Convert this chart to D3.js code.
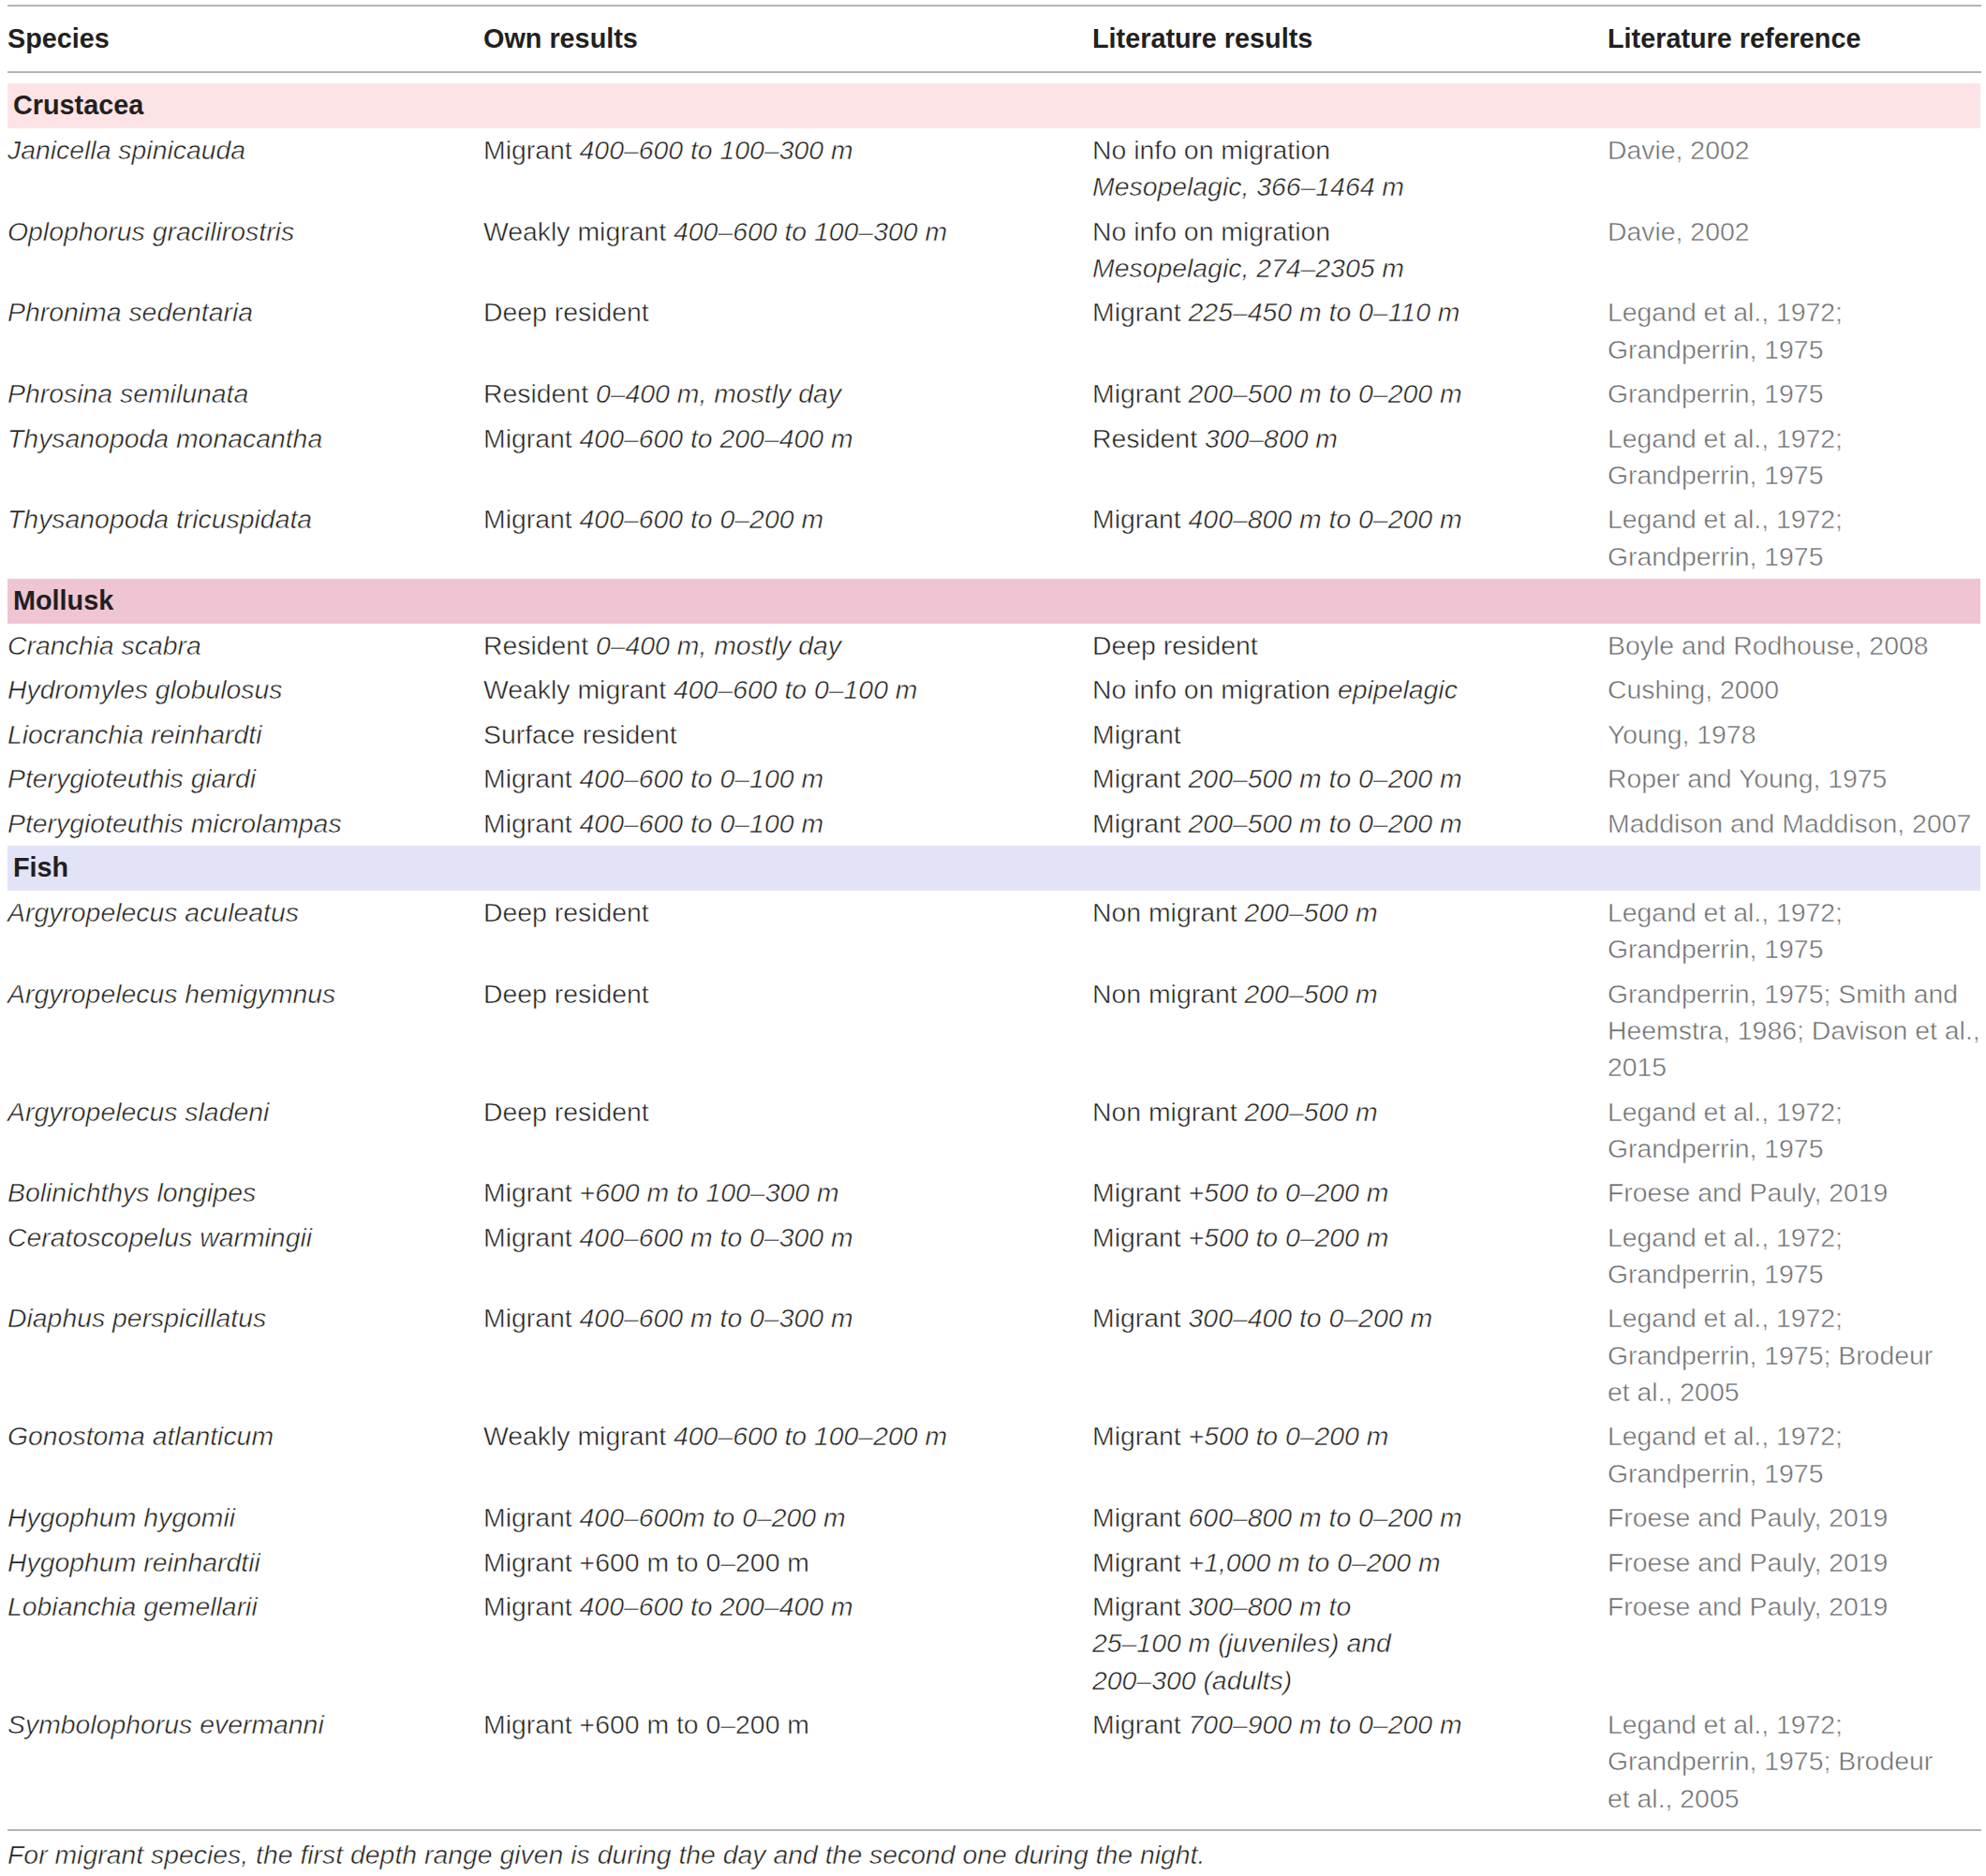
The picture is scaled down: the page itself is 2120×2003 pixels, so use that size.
<!DOCTYPE html>
<html>
<head>
<meta charset="utf-8">
<script src="https://cdn.jsdelivr.net/npm/d3@7"></script>
<style>
body { margin: 0; background: #fff; }
text { font-family: "Liberation Sans", Arial, sans-serif; white-space: pre; }
text.light { stroke: #fff; stroke-width: 0.5px; }
</style>
</head>
<body>
<div id="table"></div>
<script>
// table content, one entry per row; "_" toggles italic, "\n" breaks a line
var columns = ["Species", "Own results", "Literature results", "Literature reference"]
var groups = ["Crustacea", "Mollusk", "Fish"]
var groupColors = ["#fde3e5", "#f0c5d3", "#e3e3f8"]
var rowGroup = [0,0,0,0,0,0, 1,1,1,1,1, 2,2,2,2,2,2,2,2,2,2,2]

var species = [
	"Janicella spinicauda", "Oplophorus gracilirostris", "Phronima sedentaria", "Phrosina semilunata",
	"Thysanopoda monacantha", "Thysanopoda tricuspidata",
	"Cranchia scabra", "Hydromyles globulosus", "Liocranchia reinhardti", "Pterygioteuthis giardi",
	"Pterygioteuthis microlampas",
	"Argyropelecus aculeatus", "Argyropelecus hemigymnus", "Argyropelecus sladeni", "Bolinichthys longipes",
	"Ceratoscopelus warmingii", "Diaphus perspicillatus", "Gonostoma atlanticum", "Hygophum hygomii",
	"Hygophum reinhardtii", "Lobianchia gemellarii", "Symbolophorus evermanni"
]

var ownResults = [
	"Migrant _400–600 to 100–300 m_", "Weakly migrant _400–600 to 100–300 m_", "Deep resident",
	"Resident _0–400 m, mostly day_", "Migrant _400–600 to 200–400 m_", "Migrant _400–600 to 0–200 m_",
	"Resident _0–400 m, mostly day_", "Weakly migrant _400–600 to 0–100 m_", "Surface resident",
	"Migrant _400–600 to 0–100 m_", "Migrant _400–600 to 0–100 m_",
	"Deep resident", "Deep resident", "Deep resident", "Migrant _+600 m to 100–300 m_",
	"Migrant _400–600 m to 0–300 m_", "Migrant _400–600 m to 0–300 m_", "Weakly migrant _400–600 to 100–200 m_",
	"Migrant _400–600m to 0–200 m_", "Migrant +600 m to 0–200 m", "Migrant _400–600 to 200–400 m_",
	"Migrant +600 m to 0–200 m"
]

var litResults = [
	"No info on migration\n_Mesopelagic, 366–1464 m_", "No info on migration\n_Mesopelagic, 274–2305 m_",
	"Migrant _225–450 m to 0–110 m_", "Migrant _200–500 m to 0–200 m_", "Resident _300–800 m_",
	"Migrant _400–800 m to 0–200 m_",
	"Deep resident", "No info on migration _epipelagic_", "Migrant", "Migrant _200–500 m to 0–200 m_",
	"Migrant _200–500 m to 0–200 m_",
	"Non migrant _200–500 m_", "Non migrant _200–500 m_", "Non migrant _200–500 m_", "Migrant _+500 to 0–200 m_",
	"Migrant _+500 to 0–200 m_", "Migrant _300–400 to 0–200 m_", "Migrant _+500 to 0–200 m_",
	"Migrant _600–800 m to 0–200 m_", "Migrant _+1,000 m to 0–200 m_",
	"Migrant _300–800 m to_\n_25–100 m (juveniles) and_\n_200–300 (adults)_", "Migrant _700–900 m to 0–200 m_"
]

var litRefs = [
	"Davie, 2002", "Davie, 2002", "Legand et al., 1972;\nGrandperrin, 1975", "Grandperrin, 1975",
	"Legand et al., 1972;\nGrandperrin, 1975", "Legand et al., 1972;\nGrandperrin, 1975",
	"Boyle and Rodhouse, 2008", "Cushing, 2000", "Young, 1978", "Roper and Young, 1975",
	"Maddison and Maddison, 2007",
	"Legand et al., 1972;\nGrandperrin, 1975", "Grandperrin, 1975; Smith and\nHeemstra, 1986; Davison et al.,\n2015",
	"Legand et al., 1972;\nGrandperrin, 1975", "Froese and Pauly, 2019", "Legand et al., 1972;\nGrandperrin, 1975",
	"Legand et al., 1972;\nGrandperrin, 1975; Brodeur\net al., 2005", "Legand et al., 1972;\nGrandperrin, 1975",
	"Froese and Pauly, 2019", "Froese and Pauly, 2019", "Froese and Pauly, 2019",
	"Legand et al., 1972;\nGrandperrin, 1975; Brodeur\net al., 2005"
]

var footnote = "For migrant species, the first depth range given is during the day and the second one during the night."

var width = 2120
var height = 2003
var fontSize = 28.4
var lineH = 39.3
var rowPad = 8.1
var bandH = 48
var left = 8
var right = 2115

var svg = d3.select("#table").append("svg").attr("width", width).attr("height", height)

var xCol = d3.scaleOrdinal().domain(columns).range([8, 516, 1166, 1716])
var textColors = d3.scaleOrdinal().domain(columns).range(["#231f20", "#231f20", "#231f20", "#6d6e71"])

// rules
function rule(y) {
	svg.append("line").attr("x1", left).attr("x2", right).attr("y1", y).attr("y2", y)
		.attr("stroke", "#9d9d9d").attr("stroke-width", 1.6)
}

// header
rule(6)
svg.selectAll("text.head").data(columns).enter().append("text")
	.attr("class", "head")
	.attr("x", function(d) { return xCol(d) })
	.attr("y", 51)
	.attr("fill", "#231f20")
	.style("font-size", 28.8)
	.style("font-weight", "bold")
	.text(function(d) { return d })
rule(77)

// write one cell: lines split on \n, italic toggled by _
function cell(g, str, x, y, color, italicAll) {
	str.split("\n").forEach(function(line, li) {
		var t = g.append("text").attr("class", "light").attr("x", x).attr("y", y + li * lineH)
			.attr("fill", color).style("font-size", fontSize)
		line.split("_").forEach(function(seg, si) {
			if (seg == "") return
			t.append("tspan").text(seg)
				.style("font-style", (italicAll || si % 2 == 1) ? "italic" : "normal")
		})
	})
}

var y = 89
var lastGroup = -1
species.forEach(function(sp, i) {
	var gi = rowGroup[i]
	if (gi != lastGroup) {
		var band = svg.append("g").attr("class", "band " + groups[gi])
		band.append("rect").attr("x", left).attr("y", y).attr("width", 2114 - left).attr("height", bandH)
			.attr("fill", groupColors[gi])
		band.append("text").text(groups[gi])
			.attr("x", left + 6).attr("y", y + 33)
			.attr("fill", "#231f20")
			.style("font-size", 28.8).style("font-weight", "bold")
		y += bandH
		lastGroup = gi
	}
	var cells = [sp, ownResults[i], litResults[i], litRefs[i]]
	var nLines = d3.max(cells, function(c) { return c.split("\n").length })
	var row = svg.append("g").attr("class", "row r" + i)
	cells.forEach(function(c, j) {
		cell(row, c, xCol(columns[j]), y + 33, textColors(columns[j]), j == 0)
	})
	y += nLines * lineH + rowPad
})

rule(1954)
svg.append("text").text(footnote)
	.attr("class", "light")
	.attr("x", left).attr("y", 1990)
	.attr("fill", "#231f20")
	.style("font-size", fontSize).style("font-style", "italic")
</script>
</body>
</html>
